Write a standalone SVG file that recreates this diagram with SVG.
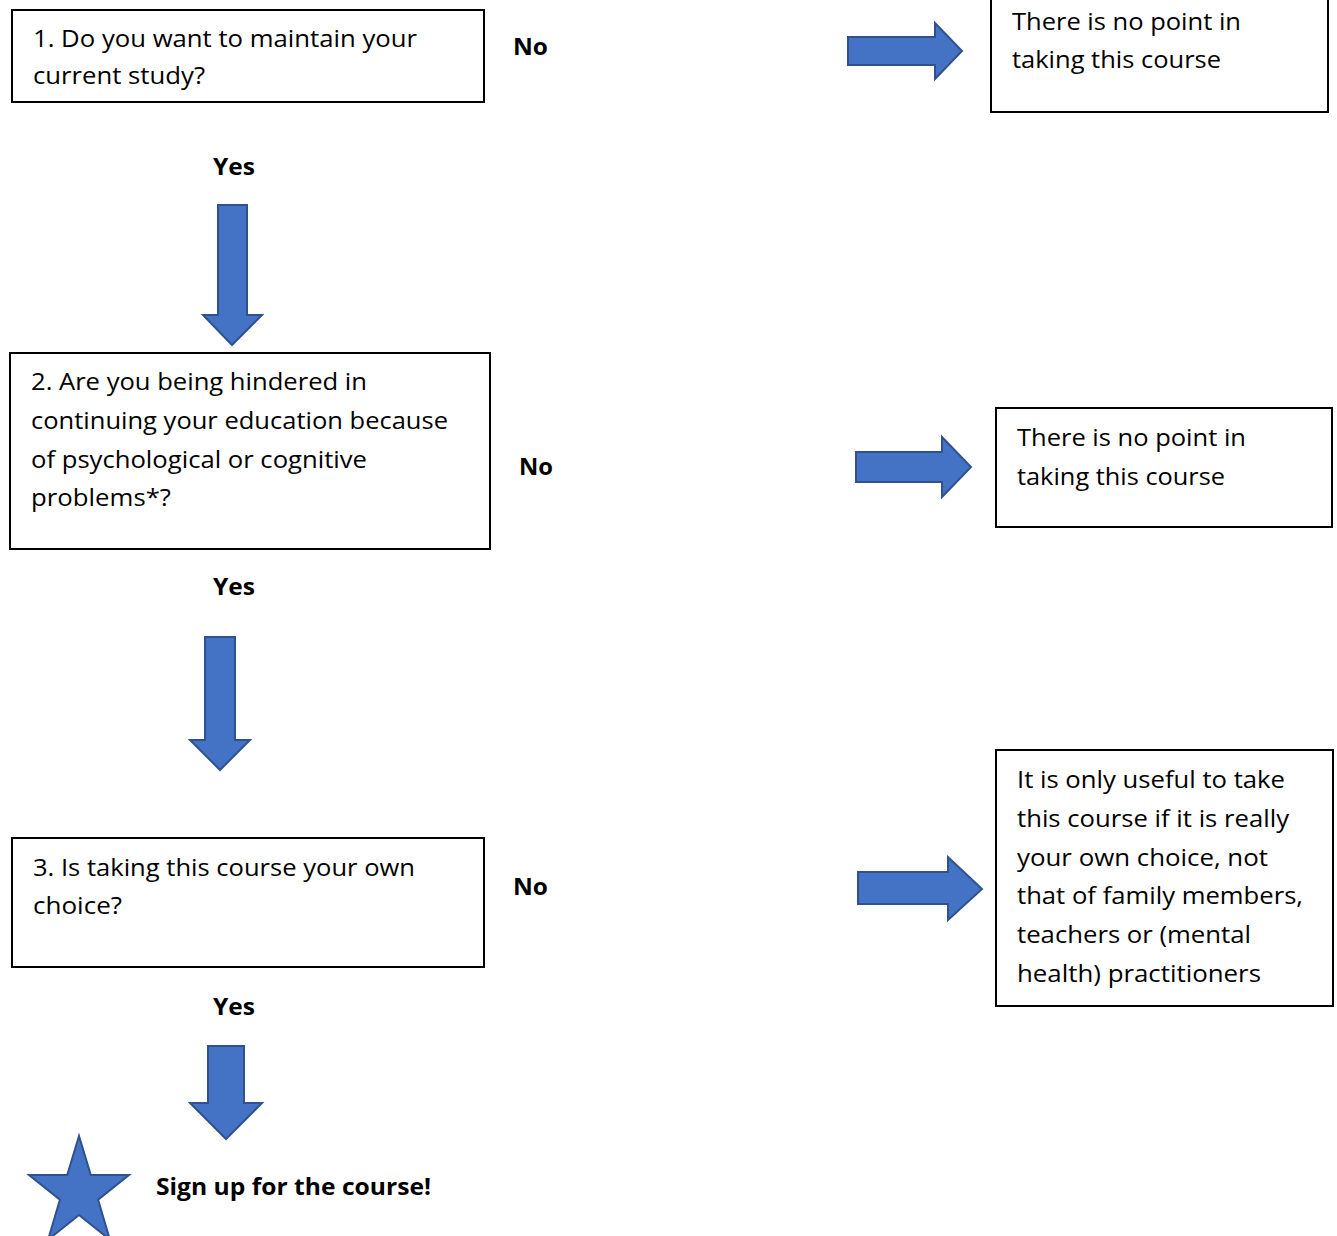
<svg xmlns="http://www.w3.org/2000/svg" width="1337" height="1236" viewBox="0 0 1337 1236">
<style>
.box{fill:#fff;stroke:#000;stroke-width:2}
.t{font-family:"Open Sans","Liberation Sans",sans-serif;font-size:24px;fill:#000}
.b{font-family:"Open Sans","Liberation Sans",sans-serif;font-size:23px;font-weight:bold;fill:#000}
.arr{fill:#4472C4;stroke:#2F528F;stroke-width:2;stroke-linejoin:miter}
</style>
<rect width="1337" height="1236" fill="#fff"/>
<g id="q1">
<rect class="box" x="12" y="10" width="472" height="92"/>
<text class="t" x="33" y="47" textLength="384" lengthAdjust="spacingAndGlyphs">1. Do you want to maintain your</text>
<text class="t" x="33" y="84" textLength="172" lengthAdjust="spacingAndGlyphs">current study?</text>
</g>
<g id="r1">
<rect class="box" x="991" y="-5" width="337" height="117"/>
<text class="t" x="1012" y="30" textLength="229" lengthAdjust="spacingAndGlyphs">There is no point in</text>
<text class="t" x="1012" y="68" textLength="209" lengthAdjust="spacingAndGlyphs">taking this course</text>
</g>
<g id="q2">
<rect class="box" x="10" y="353" width="480" height="196"/>
<text class="t" x="31" y="390" textLength="336" lengthAdjust="spacingAndGlyphs">2. Are you being hindered in</text>
<text class="t" x="31" y="429" textLength="417" lengthAdjust="spacingAndGlyphs">continuing your education because</text>
<text class="t" x="31" y="468" textLength="336" lengthAdjust="spacingAndGlyphs">of psychological or cognitive</text>
<text class="t" x="31" y="506" textLength="140" lengthAdjust="spacingAndGlyphs">problems*?</text>
</g>
<g id="r2">
<rect class="box" x="996" y="408" width="336" height="119"/>
<text class="t" x="1017" y="446" textLength="229" lengthAdjust="spacingAndGlyphs">There is no point in</text>
<text class="t" x="1017" y="485" textLength="208" lengthAdjust="spacingAndGlyphs">taking this course</text>
</g>
<g id="q3">
<rect class="box" x="12" y="838" width="472" height="129"/>
<text class="t" x="33" y="876" textLength="382" lengthAdjust="spacingAndGlyphs">3. Is taking this course your own</text>
<text class="t" x="33" y="914" textLength="89" lengthAdjust="spacingAndGlyphs">choice?</text>
</g>
<g id="r3">
<rect class="box" x="996" y="750" width="337" height="256"/>
<text class="t" x="1017" y="788" textLength="268" lengthAdjust="spacingAndGlyphs">It is only useful to take</text>
<text class="t" x="1017" y="827" textLength="272" lengthAdjust="spacingAndGlyphs">this course if it is really</text>
<text class="t" x="1017" y="866" textLength="251" lengthAdjust="spacingAndGlyphs">your own choice, not</text>
<text class="t" x="1017" y="904" textLength="286" lengthAdjust="spacingAndGlyphs">that of family members,</text>
<text class="t" x="1017" y="943" textLength="234" lengthAdjust="spacingAndGlyphs">teachers or (mental</text>
<text class="t" x="1017" y="982" textLength="244" lengthAdjust="spacingAndGlyphs">health) practitioners</text>
</g>
<g id="end">
<polygon class="arr" points="79,1136 67.2,1175 29,1175 59.9,1199.7 48.1,1239.7 79,1215 109.9,1239.7 98.1,1199.7 129,1175 90.8,1175"/>
<text class="b" x="156" y="1195" textLength="275" lengthAdjust="spacingAndGlyphs">Sign up for the course!</text>
</g>
<g id="connectors">
<polygon class="arr" points="848,37 935,37 935,23 962,51 935,79 935,65 848,65"/>
<polygon class="arr" points="856,452 942,452 942,437 971,467 942,497 942,482 856,482"/>
<polygon class="arr" points="858,872 948,872 948,857 982,889 948,920 948,904 858,904"/>
<polygon class="arr" points="218,205 247,205 247,315 262,315 232,345 203,315 218,315"/>
<polygon class="arr" points="205,637 235,637 235,740 250,740 220,770 190,740 205,740"/>
<polygon class="arr" points="208,1046 244,1046 244,1103 262,1103 226,1139 190,1103 208,1103"/>
<text class="b" x="513" y="55" textLength="35" lengthAdjust="spacingAndGlyphs">No</text>
<text class="b" x="519" y="475" textLength="34" lengthAdjust="spacingAndGlyphs">No</text>
<text class="b" x="513" y="895" textLength="35" lengthAdjust="spacingAndGlyphs">No</text>
<text class="b" x="213" y="175" textLength="42" lengthAdjust="spacingAndGlyphs">Yes</text>
<text class="b" x="213" y="595" textLength="42" lengthAdjust="spacingAndGlyphs">Yes</text>
<text class="b" x="213" y="1015" textLength="42" lengthAdjust="spacingAndGlyphs">Yes</text>
</g>
</svg>
